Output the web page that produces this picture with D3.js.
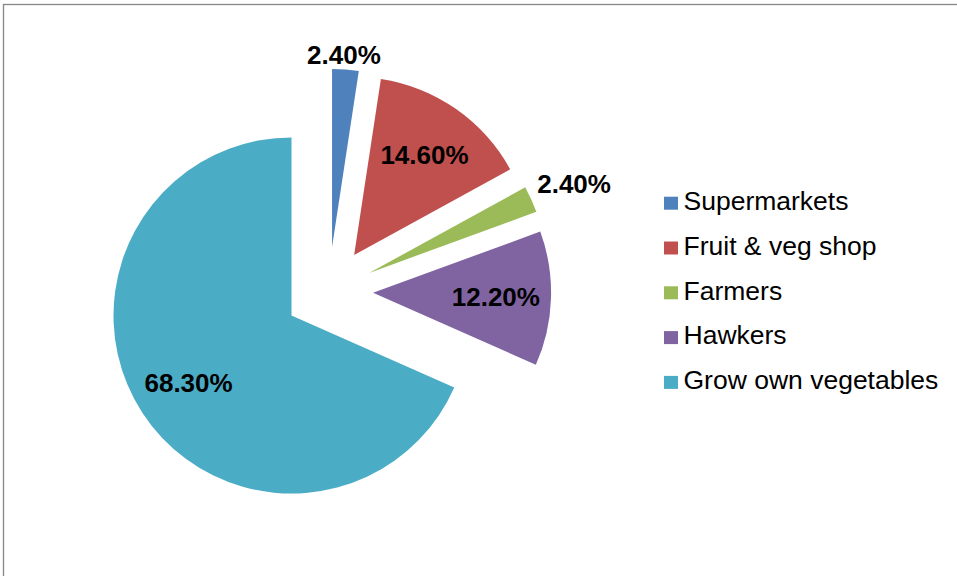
<!DOCTYPE html>
<html>
<head>
<meta charset="utf-8">
<script src="https://cdn.jsdelivr.net/npm/d3@7"></script>
<style>
  html, body { margin: 0; padding: 0; background: #fff; }
  svg { display: block; }
</style>
</head>
<body>
<svg id="chart" width="957" height="576"></svg>
<script>
// Where households buy their vegetables (share of respondents, %)
const categories = ["Supermarkets", "Fruit & veg shop", "Farmers", "Hawkers", "Grow own vegetables"];
const values = [2.4, 14.6, 2.4, 12.2, 68.3];
const labels = ["2.40%", "14.60%", "2.40%", "12.20%", "68.30%"];
const labelOutside = [true, false, true, false, false];
const colors = ["#4F81BD", "#C0504D", "#9BBB59", "#8064A2", "#4BACC6"];

const svg = d3.select("#chart");
const FONT = "'Liberation Sans', Arial, sans-serif";

// Chart area frame (open to the right and bottom)
svg.append("rect")
  .attr("x", 3.5).attr("y", 4.5)
  .attr("width", 1200).attr("height", 1200)
  .attr("fill", "none")
  .attr("stroke", "#878787")
  .attr("stroke-width", 1.3);

const cx = 328.7, cy = 291.3;
const radius = 178;
const explode = 44.4;

const pie = d3.pie().sort(null).value(d => d)(values);
const arc = d3.arc().innerRadius(0).outerRadius(radius);
const mid = d => (d.startAngle + d.endAngle) / 2;

const g = svg.append("g").attr("transform", `translate(${cx},${cy})`);

// Every slice is pulled out from the centre along its mid-angle
const slices = g.selectAll("g.slice")
  .data(pie)
  .join("g")
  .attr("class", "slice")
  .attr("transform", d => {
    const m = mid(d);
    return `translate(${explode * Math.sin(m)},${-explode * Math.cos(m)})`;
  });

slices.append("path")
  .attr("d", arc)
  .attr("fill", (d, i) => colors[i]);

const fontSize = 26;
const capHalf = fontSize * 0.358;

slices.append("text")
  .attr("font-family", FONT)
  .attr("font-weight", "bold")
  .attr("font-size", fontSize)
  .attr("fill", "#000")
  .each(function (d, i) {
    const m = mid(d);
    const s = Math.sin(m), c = Math.cos(m);
    const t = d3.select(this);
    if (labelOutside[i]) {
      // small slices: label sits just beyond the rim
      const px = radius * s, py = -radius * c;
      const anchor = s > 0.3 ? "start" : s < -0.3 ? "end" : "middle";
      const dx = anchor === "start" ? 6 : anchor === "end" ? -6 : -1.5;
      t.attr("text-anchor", anchor)
        .attr("x", px + dx)
        .attr("y", c > 0 ? py - 6 : py + 6 + 2 * capHalf);
    } else {
      const r = radius * 0.69;
      t.attr("text-anchor", "middle")
        .attr("x", r * s)
        .attr("y", -r * c + capHalf);
    }
  })
  .text((d, i) => labels[i]);

// Legend
const legend = svg.append("g").attr("transform", "translate(664,210)");
const rowH = 44.8;
const items = legend.selectAll("g")
  .data(categories)
  .join("g")
  .attr("transform", (d, i) => `translate(0,${i * rowH})`);

items.append("rect")
  .attr("x", 0).attr("y", -13.3)
  .attr("width", 14).attr("height", 13)
  .attr("fill", (d, i) => colors[i]);

items.append("text")
  .attr("x", 19.5).attr("y", 0)
  .attr("font-family", FONT)
  .attr("font-size", 26.5)
  .attr("fill", "#000")
  .text(d => d);
</script>
</body>
</html>
